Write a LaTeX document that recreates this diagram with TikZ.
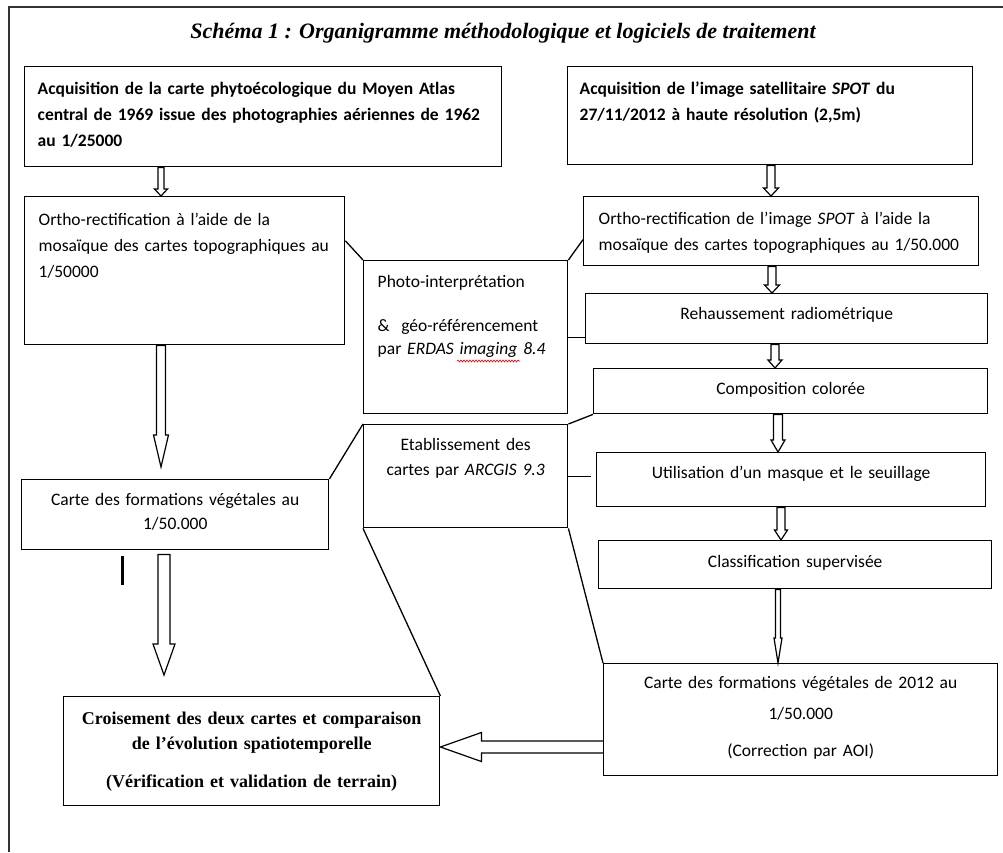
\documentclass[tikz,border=0pt]{standalone}
\usepackage{fontspec}
\setmainfont{Carlito}
\newfontfamily\timesfont{Liberation Serif}
\usepackage{tikz}
\usetikzlibrary{calc,decorations.pathmorphing}

\newcommand{\corps}[1]{\fontsize{17.5}{#1}\selectfont}
% fleche creuse vers le bas : depart, arrivee, demi-fut, demi-tete, longueur tete
\newcommand{\flechebas}[5]{%
  \draw[creux] let \p1=#1, \p2=#2 in
    (\x1-#3pt,\y1) -- (\x1-#3pt,\y2+#5pt) -- (\x1-#4pt,\y2+#5pt) -- (\x1,\y2)
    -- (\x1+#4pt,\y2+#5pt) -- (\x1+#3pt,\y2+#5pt) -- (\x1+#3pt,\y1) -- cycle;}

\tikzset{
  boite/.style={draw, line width=1.4pt, anchor=north west, inner ysep=0pt, inner xsep=13pt, align=left, font=\corps{26}},
  gras/.style={font=\corps{26}\bfseries},
  centre/.style={align=center},
  lien/.style={line width=1.3pt},
  creux/.style={line width=1.2pt},
  cadre/.style={line width=1.6pt, black!80},
  titre/.style={font=\timesfont\fontsize{22}{26}\selectfont\bfseries\itshape},
}

\begin{document}
\begin{tikzpicture}[x=1pt,y=-1pt]
  \useasboundingbox (0,0) rectangle (1003,852);
  \draw[cadre] (9,852) |- (1003,7);
  \node[titre] (titre) at (503,33) {Schéma 1 : Organigramme méthodologique et logiciels de traitement};

  % colonne gauche
  \node[boite, gras, text width=451pt, text height=28pt, text depth=72pt] (acqcarte) at (24,66)
    {\mbox{Acquisition de la carte phytoécologique du Moyen Atlas}\\\mbox{central de 1969 issue des photographies aériennes de 1962}\\au 1/25000};
  \node[boite, inner xsep=14pt, text width=292pt, text height=29pt, text depth=119pt] (orthocarte) at (24,196)
    {Ortho-rectification à l’aide de la\\\mbox{mosaïque des cartes topographiques au}\\1/50000};
  \node[boite, centre, inner xsep=10pt, font=\corps{24}, text width=287pt, text height=26pt, text depth=44pt] (cartev) at (21,479)
    {Carte des formations végétales au\\1/50.000};
  \node[boite, centre, inner xsep=10pt, font=\timesfont\fontsize{18}{25}\selectfont\bfseries, text width=356pt, text height=28pt, text depth=81pt] (croise) at (63,696)
    {Croisement des deux cartes et comparaison\\de l’évolution spatiotemporelle\\[13pt](Vérification et validation de terrain)};

  % milieu
  \node[boite, inner xsep=14pt, font=\corps{23}, text width=176pt, text height=27pt, text depth=126pt] (photo) at (363,260)
    {Photo-interprétation\\[21pt]\&\ \ géo-référencement\\par \textit{ERDAS imaging 8.4}};
  \node[boite, centre, inner xsep=8pt, font=\corps{25}, text width=188pt, text height=26pt, text depth=77pt] (etab) at (363,424)
    {Etablissement des\\cartes par \textit{ARCGIS 9.3}};

  % colonne droite
  \node[boite, inner xsep=12pt, gras, text width=381pt, text height=28pt, text depth=70pt] (acqspot) at (567,66)
    {Acquisition de l’image satellitaire \textit{SPOT} du\\27/11/2012 à haute résolution (2,5m)};
  \node[boite, inner xsep=15pt, text width=365pt, text height=28pt, text depth=41pt] (orthospot) at (583,196)
    {\mbox{Ortho-rectification de l’image \textit{SPOT} à l’aide la}\\\mbox{mosaïque des cartes topographiques au 1/50.000}};
  \node[boite, centre, inner xsep=10pt, text width=382pt, text height=26pt, text depth=24pt] (rehauss) at (585,293) {Rehaussement radiométrique};
  \node[boite, centre, inner xsep=10pt, text width=374pt, text height=26pt, text depth=19pt] (compo) at (593,368) {Composition colorée};
  \node[boite, centre, inner xsep=10pt, text width=369pt, text height=26pt, text depth=28pt] (masque) at (596,452) {Utilisation d’un masque et le seuillage};
  \node[boite, centre, inner xsep=10pt, text width=373pt, text height=27pt, text depth=21pt] (classif) at (598,540) {Classification supervisée};
  \node[boite, centre, inner xsep=10pt, font=\corps{31}, text width=374pt, text height=25pt, text depth=87pt] (carte12) at (603,663)
    {Carte des formations végétales de 2012 au\\1/50.000\\[6pt](Correction par AOI)};

  \coordinate (axeg) at (161,0);
  \coordinate (axed) at (775,0);
  \coordinate (axeh) at (0,747);

  % fleches creuses
  \flechebas{(axeg |- acqcarte.south)}{(axeg |- orthocarte.north)}{3}{6.5}{7}
  \flechebas{($(axeg |- orthocarte.south)$)}{($(axeg |- cartev.north)+(0,-12)$)}{4.5}{7.5}{32}
  \flechebas{($(axeg |- cartev.south)+(3,4)$)}{($(axeg |- croise.north)+(3,-21)$)}{6}{11}{31}
  \flechebas{($(axed |- acqspot.south)+(-4,0)$)}{($(axed |- orthospot.north)+(-4,0)$)}{4}{7.5}{8}
  \flechebas{($(axed |- orthospot.south)+(-3,0)$)}{($(axed |- rehauss.north)+(-3,0)$)}{4}{7.5}{8}
  \flechebas{(axed |- rehauss.south)}{(axed |- compo.north)}{4}{7}{8}
  \flechebas{($(axed |- compo.south)+(3,0)$)}{($(axed |- masque.north)+(3,0)$)}{4.5}{7}{12}
  \flechebas{($(axed |- masque.south)+(6,0)$)}{($(axed |- classif.north)+(6,0)$)}{4}{6.5}{10}
  \flechebas{($(axed |- classif.south)+(3,0)$)}{($(axed |- carte12.north)+(3,0)$)}{2.5}{4}{25}
  \draw[creux] let \p1=(axeh -| carte12.west), \p2=(axeh -| croise.east) in
    (\x1,\y1+6pt) -- (\x2+41pt,\y1+6pt) -- (\x2+41pt,\y1+14.5pt) -- (\x2,\y1)
    -- (\x2+41pt,\y1-14.5pt) -- (\x2+41pt,\y1-6pt) -- (\x1,\y1-6pt);

  % traits de liaison
  \draw[lien] ($(orthocarte.north east)!0.3!(orthocarte.south east)$) -- (photo.north west);
  \draw[lien] (photo.north east) -- ($(orthospot.north west)!0.62!(orthospot.south west)$);
  \draw[lien] (photo.east) -- (photo.east -| rehauss.west);
  \draw[lien] (etab.north east) -- (compo.south west);
  \draw[lien] (cartev.north east) -- (etab.north west);
  \draw[lien] (etab.east) -- ($(etab.east -| masque.west)+(-5,0)$);
  \draw[lien] (etab.south west) -- (croise.north east);
  \draw[lien] (etab.south east) -- (carte12.north west);

  % soulignement du correcteur
  \draw[red, line width=0.6pt, decorate, decoration={snake, amplitude=1pt, segment length=3pt}] (457,361) -- (520,361);
  \draw[line width=3pt] (122,556) -- (122,585);
\end{tikzpicture}
\end{document}
